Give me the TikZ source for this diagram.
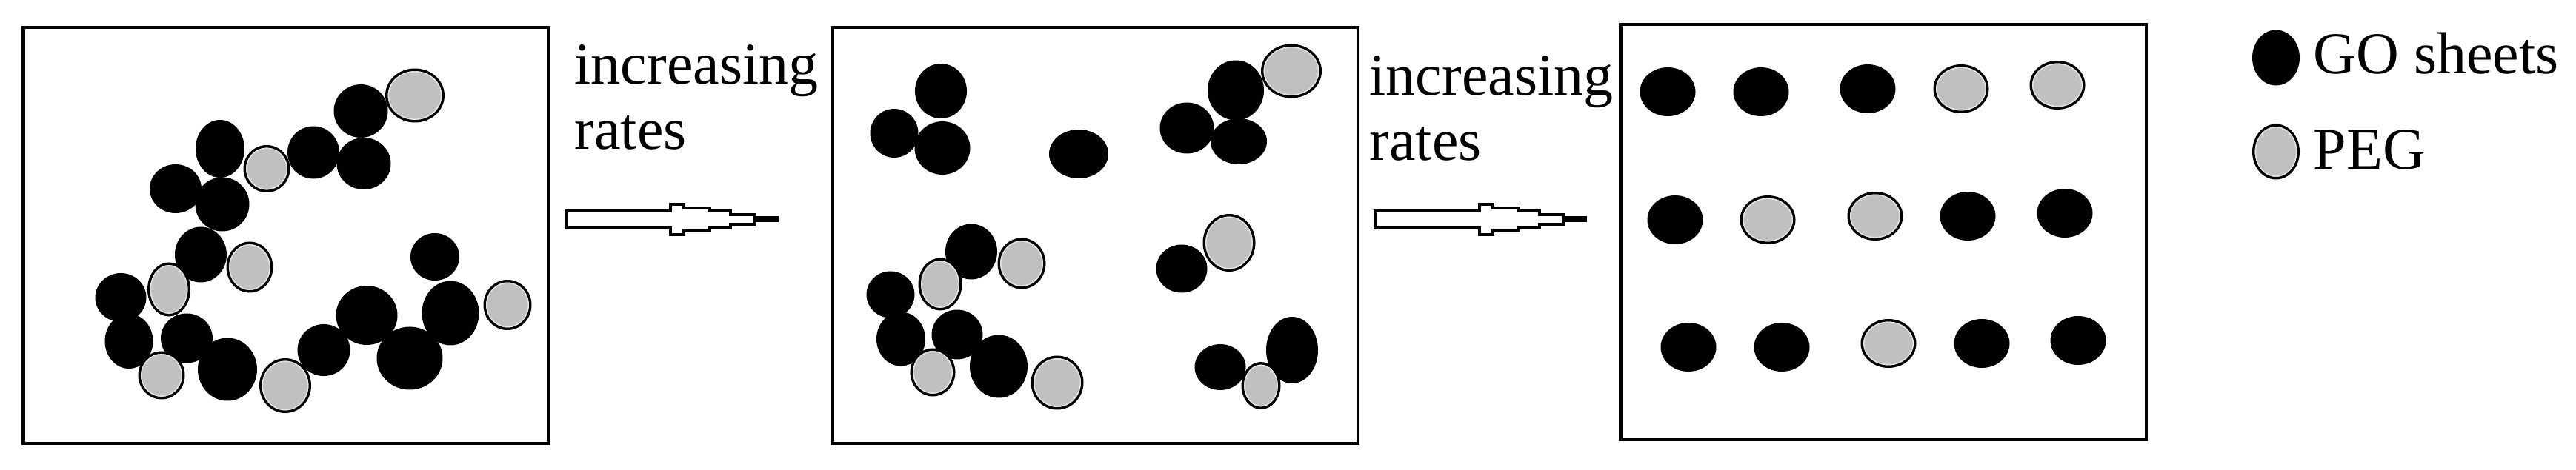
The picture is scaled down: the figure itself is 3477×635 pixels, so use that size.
\documentclass[tikz,border=0pt]{standalone}
\usepackage{fontspec}
\setmainfont{Liberation Serif}
\definecolor{pegfill}{RGB}{192,192,192}
\definecolor{pegring}{RGB}{226,226,226}
\newcommand\goblob[4]{\fill[black] (#1,#2) ellipse [x radius=#3/2, y radius=#4/2];}
\newcommand\pegblob[4]{%
  \filldraw[fill=pegfill, draw=black, line width=0.35mm] (#1,#2) ellipse [x radius=(#3-3.5)/2, y radius=(#4-3.5)/2];
  \draw[pegring, line width=0.15mm] (#1,#2) ellipse [x radius=(#3-3.5)/2-2.6, y radius=(#4-3.5)/2-2.6];}
\tikzset{
  panel/.style={draw=black, line width=0.47mm},
  lbl/.style={font=\fontsize{8mm}{8.78mm}\selectfont, inner sep=0pt, align=left, anchor=base west},
  ratearrow/.pic={
    \draw[line width=0.4mm, fill=white, line join=miter]
      (2,-11.2) -- (142.6,-11.2) -- (142.6,-20.6) -- (160.3,-20.6) -- (160.3,-15.8)
      -- (195.6,-15.8) -- (195.6,-11.8) -- (223.3,-11.8) -- (223.3,-6.1) -- (255.6,-6.1)
      -- (255.6,6.1) -- (223.3,6.1) -- (223.3,11.8) -- (195.6,11.8) -- (195.6,15.8)
      -- (160.3,15.8) -- (160.3,20.6) -- (142.6,20.6) -- (142.6,11.2) -- (2,11.2) -- cycle;
    \fill[black] (255.6,-4) rectangle (288,4);
  }
}
\begin{document}
\begin{tikzpicture}[x=0.1mm,y=-0.1mm]
\useasboundingbox (0,0) rectangle (3477,635);
\fill[white] (0,0) rectangle (3477,635);

% panels
\coordinate (p1a) at (31.7,37);   \coordinate (p1b) at (740.3,599);
\coordinate (p2a) at (1123.7,37); \coordinate (p2b) at (1833,599);
\coordinate (p3a) at (2187.7,33); \coordinate (p3b) at (2897,594);

% ---- panel 1: aggregated ----
\goblob{487}{150}{73}{72}
\goblob{491}{221}{73}{70}
\goblob{423}{206}{70}{71}
\goblob{297}{201}{66}{78}
\goblob{237}{255}{70}{66}
\goblob{300}{276}{73}{73}
\goblob{271}{344}{70}{75}
\goblob{163}{402}{69}{66}
\goblob{174}{461}{65}{74}
\goblob{252}{457}{70}{67}
\goblob{307}{499}{80}{85}
\goblob{437}{473}{71}{70}
\goblob{495}{426}{83}{80}
\goblob{553}{484}{89}{85}
\goblob{608}{423}{77}{87}
\goblob{587}{347}{66}{64}
\pegblob{560}{129}{80}{73}
\pegblob{360}{228}{63}{64}
\pegblob{337}{361}{63}{69}
\pegblob{228}{391}{58}{73}
\pegblob{685}{412}{65}{68}
\pegblob{218}{507}{63}{65}
\pegblob{385}{521}{70}{74}
\draw[panel] (p1a) rectangle (p1b);

% ---- panel 2: partly dispersed ----
\goblob{1270}{123}{70}{74}
\goblob{1207}{180}{65}{66}
\goblob{1272}{200}{75}{72}
\goblob{1456}{208}{80}{66}
\goblob{1668}{122}{76}{81}
\goblob{1602}{173}{73}{69}
\goblob{1672}{191}{76}{62}
\goblob{1311}{340}{70}{75}
\goblob{1202}{398}{65}{63}
\goblob{1216}{458}{66}{73}
\goblob{1292}{452}{69}{67}
\goblob{1348}{495}{78}{85}
\goblob{1595}{363}{69}{65}
\goblob{1647}{496}{69}{62}
\goblob{1744}{473}{70}{90}
\pegblob{1743}{96}{82}{73}
\pegblob{1379}{356}{65}{69}
\pegblob{1269}{384}{59}{71}
\pegblob{1259}{503}{61}{65}
\pegblob{1427}{517}{71}{73}
\pegblob{1659}{328}{71}{78}
\pegblob{1702}{521}{53}{64}
\draw[panel] (p2a) rectangle (p2b);

% ---- panel 3: dispersed ----
\goblob{2251}{124}{75}{66}
\goblob{2377}{124}{75}{66}
\goblob{2521}{120}{75}{66}
\pegblob{2647}{120}{75}{66}
\pegblob{2777}{115}{75}{66}
\goblob{2261}{297}{75}{66}
\pegblob{2386}{297}{75}{66}
\pegblob{2531}{292}{75}{66}
\goblob{2656}{292}{75}{66}
\goblob{2787}{288}{75}{66}
\goblob{2279}{469}{75}{66}
\goblob{2405}{469}{75}{66}
\pegblob{2549}{464}{75}{66}
\goblob{2675}{464}{75}{66}
\goblob{2805}{460}{75}{66}
\draw[panel] (p3a) rectangle (p3b);

% ---- arrows and labels ----
\pic at (762.7,296.5) {ratearrow};
\pic at (1854.3,296.5) {ratearrow};
\node[lbl] (rate1) at (775,201.2) {increasing\\rates};
\node[lbl] (rate2) at (1848,216.6) {increasing\\rates};

% ---- legend ----
\goblob{3072}{78}{64}{75}
\pegblob{3072}{205}{64}{75}
\node[lbl] (leggo) at (3122,100) {GO sheets};
\node[lbl] (legpeg) at (3122,229) {PEG};
\end{tikzpicture}
\end{document}
